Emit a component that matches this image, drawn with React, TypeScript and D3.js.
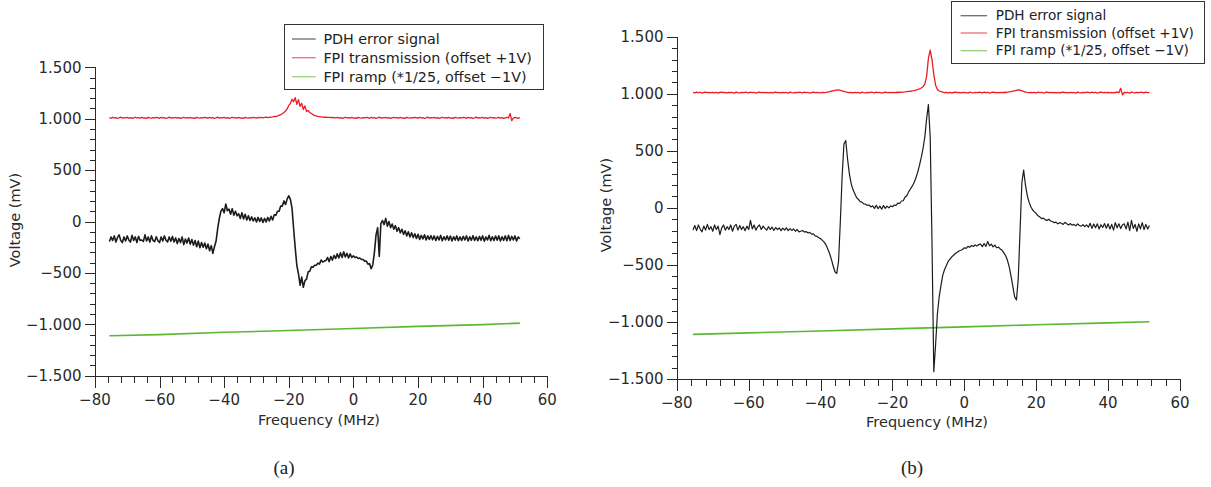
import * as d3 from 'd3';

// frequency grids (MHz) for the sampled traces
const freqA = d3.range(-75.5, 52, 0.5);
const freqB = d3.range(-75.5, 52, 0.5);

// panel (a): PDH error signal (mV)
const pdhA = [
  -195, -150, -185, -140, -200, -155, -130, -185, -205, -150,
  -190, -140, -180, -200, -135, -185, -150, -205, -145, -185,
  -180, -195, -130, -190, -150, -200, -140, -185, -195, -148,
  -188, -205, -150, -190, -140, -182, -198, -150, -192, -145,
  -200, -160, -215, -165, -205, -150, -225, -170, -210, -160,
  -220, -175, -230, -185, -245, -190, -255, -205, -250, -210,
  -265, -220, -285, -235, -310, -245, -190, -70, 30, 100,
  125, 85, 170, 105, 120, 70, 125, 60, 100, 55,
  75, 30, 85, 25, 70, 15, 55, 10, 45, 5,
  35, -5, 40, 0, 35, -10, 30, -5, 40, 5,
  50, 15, 65, 60, 100, 100, 150, 150, 200, 165,
  220, 250, 215, 130, -70, -260, -430, -510, -620, -540,
  -640, -575, -560, -490, -485, -440, -445, -425, -425, -405,
  -415, -375, -395, -385, -380, -350, -390, -340, -375, -330,
  -360, -315, -355, -305, -350, -295, -345, -310, -355, -315,
  -350, -335, -350, -345, -360, -355, -370, -370, -385, -385,
  -415, -410, -460, -420, -300, -130, -60, -340, -20, 10,
  -30, 30, -45, 0, -60, -25, -75, -40, -95, -60,
  -110, -75, -125, -90, -140, -100, -150, -110, -155, -120,
  -165, -125, -175, -135, -170, -130, -180, -140, -175, -138,
  -178, -140, -185, -145, -180, -135, -188, -148, -180, -140,
  -183, -142, -190, -148, -181, -140, -187, -150, -185, -145,
  -180, -140, -190, -148, -183, -138, -185, -150, -187, -145,
  -183, -140, -191, -150, -180, -135, -187, -148, -185, -142,
  -181, -140, -190, -148, -183, -140, -187, -135, -185, -145,
  -180, -140, -190, -150, -168,
];

// panel (a): FPI transmission (offset +1V), mV
const fpiA = [
  1010, 1004, 1013, 1007, 1011, 1002, 1009, 1015, 1006, 1010,
  1008, 1012, 1005, 1011, 1003, 1009, 1014, 1007, 1010, 1005,
  1012, 1006, 1009, 1003, 1013, 1008, 1005, 1011, 1007, 1012,
  1010, 1004, 1013, 1007, 1011, 1002, 1009, 1015, 1006, 1010,
  1008, 1012, 1005, 1011, 1003, 1009, 1014, 1007, 1010, 1005,
  1012, 1006, 1009, 1003, 1013, 1008, 1005, 1011, 1007, 1012,
  1010, 1004, 1013, 1007, 1011, 1002, 1009, 1015, 1006, 1010,
  1008, 1012, 1005, 1011, 1003, 1009, 1014, 1007, 1010, 1005,
  1012, 1006, 1009, 1003, 1013, 1008, 1005, 1011, 1007, 1012,
  1010, 1006, 1012, 1008, 1014, 1009, 1012, 1016, 1010, 1014,
  1015, 1018, 1022, 1020, 1028, 1032, 1040, 1048, 1060, 1075,
  1095, 1130, 1150, 1190, 1165, 1205, 1140, 1185, 1120, 1150,
  1090, 1125, 1070, 1080, 1060, 1050, 1040, 1030, 1028, 1022,
  1020, 1018, 1016, 1014, 1015, 1012, 1013, 1010, 1012, 1011,
  1008, 1012, 1005, 1011, 1003, 1009, 1014, 1007, 1010, 1005,
  1012, 1006, 1009, 1003, 1013, 1008, 1005, 1011, 1007, 1012,
  1010, 1004, 1013, 1007, 1011, 1002, 1009, 1015, 1006, 1010,
  1008, 1012, 1005, 1011, 1003, 1009, 1014, 1007, 1010, 1005,
  1012, 1006, 1009, 1003, 1013, 1008, 1005, 1011, 1007, 1012,
  1010, 1004, 1013, 1007, 1011, 1002, 1009, 1015, 1006, 1010,
  1008, 1012, 1005, 1011, 1003, 1009, 1014, 1007, 1010, 1005,
  1012, 1006, 1009, 1003, 1013, 1008, 1005, 1011, 1007, 1012,
  1010, 1004, 1013, 1007, 1011, 1002, 1009, 1015, 1006, 1010,
  1008, 1012, 1005, 1011, 1003, 1009, 1014, 1007, 1010, 1005,
  1008, 1012, 1005, 1011, 1003, 1009, 1014, 1007, 1050, 982,
  1006, 1012, 1008, 1004, 1010,
];

// panel (a): FPI ramp (*1/25, offset -1V)
const rampFreqA = [-75.5, -60, -40, -20, 0, 20, 40, 51.5];
const rampA = [-1112, -1100, -1078, -1061, -1041, -1020, -1003, -989];

// panel (b): PDH error signal (mV)
const pdhB = [
  -195, -155, -200, -150, -185, -210, -160, -195, -145, -190,
  -165, -205, -150, -190, -160, -235, -175, -150, -195, -165,
  -190, -150, -205, -160, -145, -195, -155, -190, -165, -200,
  -160, -190, -110, -185, -150, -195, -165, -150, -190, -160,
  -180, -195, -165, -190, -168, -198, -172, -190, -175, -200,
  -178, -195, -175, -200, -182, -198, -184, -205, -190, -210,
  -205, -198, -212, -208, -220, -215, -230, -228, -245, -250,
  -262, -270, -285, -300, -325, -360, -400, -450, -510, -560,
  -575, -470, -120, 280, 560, 590, 430, 300, 215, 160,
  125, 90, 75, 55, 50, 35, 32, 22, 25, 8,
  18, -5, 22, -8, 15, -12, 20, -5, 15, 0,
  18, 10, 25, 22, 42, 38, 60, 62, 95, 105,
  140, 165, 190, 220, 260, 310, 370, 440, 520, 620,
  780, 905, 620, -300, -1436, -1200, -930, -780, -680, -590,
  -540, -505, -470, -450, -430, -415, -400, -390, -378, -372,
  -365, -350, -355, -338, -345, -330, -338, -325, -334, -322,
  -318, -340, -312, -338, -295, -332, -318, -342, -326, -350,
  -345, -360, -372, -395, -420, -460, -520, -600, -690, -780,
  -808, -620, -200, 220, 330, 200, 110, 50, 10, -19,
  -35, -50, -70, -80, -95, -90, -105, -110, -100, -115,
  -120, -130, -125, -140, -130, -135, -145, -128, -140, -150,
  -138, -152, -145, -158, -140, -155, -160, -148, -165, -150,
  -170, -135, -180, -142, -175, -140, -185, -148, -172, -138,
  -178, -140, -185, -145, -195, -130, -175, -140, -182, -148,
  -140, -185, -125, -200, -110, -180, -145, -205, -140, -185,
  -130, -190, -145, -185, -155,
];

// panel (b): FPI transmission (offset +1V), mV
const fpiB = [
  1012, 1008, 1014, 1010, 1013, 1006, 1011, 1015, 1009, 1012,
  1010, 1013, 1008, 1012, 1007, 1011, 1014, 1009, 1012, 1008,
  1013, 1009, 1011, 1006, 1014, 1010, 1008, 1012, 1009, 1013,
  1012, 1008, 1014, 1010, 1013, 1006, 1011, 1015, 1009, 1012,
  1010, 1013, 1008, 1012, 1007, 1011, 1014, 1009, 1012, 1008,
  1013, 1009, 1011, 1006, 1014, 1010, 1008, 1012, 1009, 1013,
  1012, 1008, 1014, 1010, 1013, 1006, 1011, 1015, 1009, 1012,
  1010, 1008, 1013, 1010, 1012, 1015, 1018, 1022, 1026, 1030,
  1032, 1033, 1030, 1025, 1020, 1016, 1013, 1010, 1012, 1008,
  1013, 1009, 1011, 1006, 1014, 1010, 1008, 1012, 1009, 1013,
  1012, 1008, 1014, 1010, 1013, 1006, 1011, 1015, 1009, 1012,
  1010, 1012, 1009, 1013, 1011, 1014, 1012, 1015, 1016, 1018,
  1020, 1022, 1025, 1028, 1032, 1036, 1042, 1050, 1062, 1085,
  1150, 1310, 1383, 1300, 1170, 1075, 1038, 1024, 1018, 1014,
  1010, 1013, 1008, 1012, 1007, 1011, 1014, 1009, 1012, 1008,
  1013, 1009, 1011, 1006, 1014, 1010, 1008, 1012, 1009, 1013,
  1012, 1008, 1014, 1010, 1013, 1006, 1011, 1015, 1009, 1012,
  1010, 1012, 1009, 1013, 1011, 1014, 1016, 1018, 1022, 1026,
  1030, 1034, 1032, 1026, 1020, 1015, 1012, 1010, 1013, 1009,
  1012, 1008, 1014, 1010, 1013, 1006, 1011, 1015, 1009, 1012,
  1010, 1013, 1008, 1012, 1007, 1011, 1014, 1009, 1012, 1008,
  1013, 1009, 1011, 1006, 1014, 1010, 1008, 1012, 1009, 1013,
  1012, 1008, 1014, 1010, 1013, 1006, 1011, 1015, 1009, 1012,
  1010, 1013, 1008, 1012, 1007, 1011, 1014, 1009, 1048, 990,
  1013, 1009, 1011, 1006, 1014, 1010, 1008, 1012, 1009, 1013,
  1012, 1008, 1014, 1010, 1013,
];

// panel (b): FPI ramp (*1/25, offset -1V)
const rampFreqB = [-75.5, -60, -40, -20, 0, 20, 40, 51.5];
const rampB = [-1109, -1096, -1079, -1061, -1043, -1025, -1008, -998];

const legendLabels = [
  'PDH error signal',
  'FPI transmission (offset +1V)',
  'FPI ramp (*1/25, offset \u22121V)',
];

const xMajor = [-80, -60, -40, -20, 0, 20, 40, 60];
const yMajor = [-1500, -1000, -500, 0, 500, 1000, 1500];

const colors = { pdh: '#1c1c1c', fpi: '#ec1c24', ramp: '#5cb832' };
const axisColor = '#2a2a2a';
const font = '"DejaVu Sans", Verdana, sans-serif';

const fmt = d3
  .formatLocale({ decimal: ',', thousands: '.', grouping: [3], currency: ['', ''], minus: '\u2212' })
  .format(',d');

const zip = (xs: number[], ys: number[]): [number, number][] =>
  ys.slice(0, xs.length).map((v, i) => [xs[i], v]);

// snap a coordinate onto the pixel grid so 1px ticks stay sharp
const px = (v: number) => Math.round(v) + 0.5;

type Cfg = {
  xRange: [number, number];
  yRange: [number, number];
  legend: { x: number; y: number; w: number; h: number; rows: number[]; lx0: number; lx1: number; tx: number; fs: number };
  yLabel: [number, number];
  xLabel: [number, number];
  caption: [number, number];
  name: string;
  pdhWidth: number;
};

function Panel({ cfg, pdh, fpi, ramp }: { cfg: Cfg; pdh: [number, number][]; fpi: [number, number][]; ramp: [number, number][] }) {
  const x = d3.scaleLinear().domain([-80, 60]).range(cfg.xRange);
  const y = d3.scaleLinear().domain([-1500, 1500]).range(cfg.yRange);
  const line = d3
    .line<[number, number]>()
    .x((d) => x(d[0]))
    .y((d) => y(d[1]));

  const xMinor = d3.range(-80, 61, 4).filter((v) => v % 20 !== 0);
  const yMinor = d3.range(-1500, 1501, 100).filter((v) => v % 500 !== 0);
  const ax = px(cfg.xRange[0]);
  const ax1 = px(cfg.xRange[1]);
  const ab = px(cfg.yRange[0]);
  const at = px(cfg.yRange[1]);
  const lg = cfg.legend;
  const series = [
    { c: colors.pdh, d: pdh, w: cfg.pdhWidth },
    { c: colors.fpi, d: fpi, w: 1.3 },
    { c: colors.ramp, d: ramp, w: 1.6 },
  ];

  return (
    <g fontFamily={font}>
      {/* traces */}
      {series
        .slice()
        .reverse()
        .map((s, i) => (
          <path key={i} d={line(s.d) || ''} fill="none" stroke={s.c} strokeWidth={s.w} strokeLinejoin="round" />
        ))}

      <g stroke={axisColor} strokeWidth={1} shapeRendering="crispEdges">
        {/* y axis */}
        <line x1={ax} x2={ax} y1={at} y2={ab} />
        {yMinor.map((v) => (
          <line key={'ym' + v} x1={ax - 6} x2={ax} y1={px(y(v))} y2={px(y(v))} />
        ))}
        {yMajor.map((v) => (
          <line key={'yM' + v} x1={ax - 11} x2={ax} y1={px(y(v))} y2={px(y(v))} />
        ))}
        {/* x axis */}
        <line x1={ax} x2={ax1} y1={ab} y2={ab} />
        {xMinor.map((v) => (
          <line key={'xm' + v} x1={px(x(v))} x2={px(x(v))} y1={ab} y2={ab + 6} />
        ))}
        {xMajor.map((v) => (
          <line key={'xM' + v} x1={px(x(v))} x2={px(x(v))} y1={ab} y2={ab + 11} />
        ))}
      </g>

      {yMajor.map((v) => (
        <text key={'yl' + v} x={ax - 14} y={y(v)} dy="0.35em" textAnchor="end" fontSize={15} fill={axisColor}>
          {fmt(v)}
        </text>
      ))}
      {xMajor.map((v) => (
        <text key={'xl' + v} x={x(v)} y={ab + 23} dy="0.35em" textAnchor="middle" fontSize={15} fill={axisColor}>
          {fmt(v)}
        </text>
      ))}

      {/* axis titles */}
      <text x={cfg.xLabel[0]} y={cfg.xLabel[1]} dy="0.35em" textAnchor="middle" fontSize={14.5} fill={axisColor}>
        Frequency (MHz)
      </text>
      <text
        transform={`translate(${cfg.yLabel[0]},${cfg.yLabel[1]}) rotate(-90)`}
        dy="0.35em"
        textAnchor="middle"
        fontSize={14.5}
        fill={axisColor}
      >
        Voltage (mV)
      </text>

      {/* legend */}
      <rect x={px(lg.x)} y={px(lg.y)} width={Math.round(lg.w)} height={Math.round(lg.h)} fill="#fff" stroke="#333" strokeWidth={1.2} shapeRendering="crispEdges" />
      {legendLabels.map((t, i) => (
        <g key={t}>
          <line x1={lg.lx0} x2={lg.lx1} y1={lg.rows[i]} y2={lg.rows[i]} stroke={series[i].c} strokeOpacity={0.65} strokeWidth={1.3} />
          <text x={lg.tx} y={lg.rows[i]} dy="0.35em" fontSize={lg.fs} fill="#222">
            {t}
          </text>
        </g>
      ))}

      {/* caption */}
      <text x={cfg.caption[0]} y={cfg.caption[1]} dy="0.35em" textAnchor="middle" fontSize={19} fontFamily='"Liberation Serif", serif' fill="#222">
        {cfg.name}
      </text>
    </g>
  );
}

const cfgA: Cfg = {
  xRange: [94.9, 547.3],
  yRange: [375.7, 67.3],
  legend: { x: 283.6, y: 24.3, w: 259.4, h: 64.7, rows: [39, 57.7, 76.7], lx0: 292, lx1: 315.7, tx: 323.4, fs: 14.3 },
  yLabel: [15.3, 220],
  xLabel: [319, 420],
  caption: [284, 467],
  name: '(a)',
  pdhWidth: 1.6,
};

const cfgB: Cfg = {
  xRange: [676.8, 1180],
  yRange: [379, 36.7],
  legend: { x: 951.3, y: 1.3, w: 253.4, h: 62, rows: [15.7, 33, 50.7], lx0: 960.6, lx1: 987.1, tx: 995.7, fs: 13.6 },
  yLabel: [606, 205],
  xLabel: [927, 422],
  caption: [912, 467],
  name: '(b)',
  pdhWidth: 1.2,
};

export default function App() {
  return (
    <svg width={1211} height={487} style={{ position: 'absolute', left: 0, top: 0, background: '#fff' }}>
      <Panel cfg={cfgA} pdh={zip(freqA, pdhA)} fpi={zip(freqA, fpiA)} ramp={zip(rampFreqA, rampA)} />
      <Panel cfg={cfgB} pdh={zip(freqB, pdhB)} fpi={zip(freqB, fpiB)} ramp={zip(rampFreqB, rampB)} />
    </svg>
  );
}
